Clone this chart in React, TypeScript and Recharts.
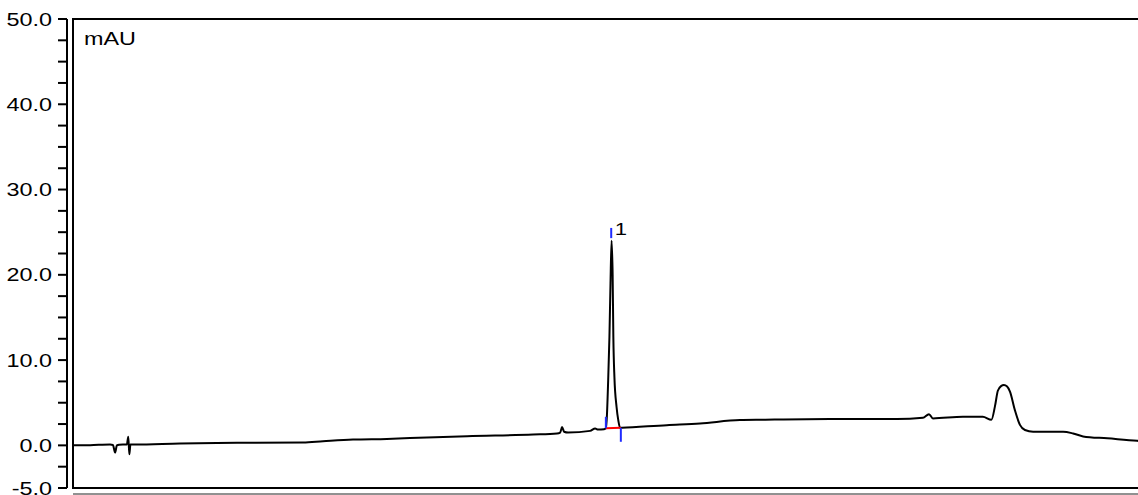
import { LineChart, Line, XAxis, YAxis, ReferenceArea, ReferenceLine, ReferenceDot, Label } from 'recharts'

// retention time (min) and detector signal (mAU)
const times = [
  0, 0.48, 1.04, 1.12, 1.18, 1.23, 1.29, 1.51, 1.55, 1.58, 1.61, 1.74,
  3.0, 4.6, 6.45, 7.01, 7.85, 8.8, 9.45, 11.05, 12.9, 13.57, 13.66, 13.71,
  13.77, 13.88, 14.5, 14.64, 14.72, 14.89, 14.94, 14.97, 15.0, 15.04, 15.07,
  15.1, 15.13, 15.15, 15.18, 15.24, 15.29, 15.34, 15.39, 16.65, 17.58, 18.7,
  19.35, 21.22, 23.1, 23.83, 24.0, 24.11, 24.95, 25.51, 25.75, 25.85, 25.93,
  26.02, 26.1, 26.19, 26.27, 26.41, 26.55, 26.69, 26.92, 27.76, 28.04, 28.32,
  29.0, 29.84, 30,
]
const signal = [
  0.0, 0.02, 0.1, 0.05, -0.85, 0.0, 0.08, 0.1, 1.0, -1.05, 0.1, 0.1,
  0.22, 0.3, 0.34, 0.49, 0.69, 0.76, 0.85, 1.08, 1.28, 1.4, 1.5, 2.14,
  1.6, 1.5, 1.7, 1.98, 1.85, 1.9, 2.0, 3.5, 7.0, 12.7, 19.0,
  24.0, 20.0, 12.7, 8.0, 4.5, 2.9, 2.05, 2.06, 2.37, 2.57, 2.96,
  3.0, 3.08, 3.08, 3.23, 3.66, 3.16, 3.35, 3.35, 3.0, 4.6, 6.4,
  6.95, 7.07, 6.9, 6.3, 4.1, 2.4, 1.8, 1.6, 1.6, 1.4, 1.05,
  0.82, 0.53, 0.5,
]

const yTicks = [-5, -2.5, 0, 2.5, 5, 7.5, 10, 12.5, 15, 17.5, 20, 22.5, 25, 27.5, 30, 32.5, 35, 37.5, 40, 42.5, 45, 47.5, 50]
const yLabels = [-5, 0, 10, 20, 30, 40, 50]

// integration marks of peak 1
const peakName = '1'
const peakStart = { time: 14.94, value: 2.0, markTo: 3.35 }
const peakEnd = { time: 15.36, value: 2.06, markTo: 0.42 }
const peakApex = { time: 15.09, markFrom: 24.3, markTo: 25.5 }

const data = times.map((t, i) => ({ t, v: signal[i] }))

const font = "'Liberation Sans', Arial, sans-serif"

function YTick(props: any) {
  const { x, y, payload } = props
  if (!yLabels.includes(payload.value)) return <g />
  return (
    <text transform={`translate(${x},${y + 6.5}) scale(1.3,1)`} textAnchor="end"
      fontSize={18} fontFamily={font} fill="#000">
      {payload.value.toFixed(1)}
    </text>
  )
}

export default function App() {
  return (
    <div style={{ position: 'absolute', left: 0, top: 0, width: 1138, height: 495, overflow: 'hidden', background: '#fff' }}>
      <LineChart width={1150} height={534} data={data} margin={{ top: 19, right: 7, left: 0, bottom: 0 }}>
        <XAxis xAxisId="a_pad" dataKey="t" type="number" domain={[0, 30]} height={6} tick={false} tickLine={false} axisLine={false} />
        <XAxis xAxisId="b_time" dataKey="t" type="number" domain={[0, 30]} height={40} tick={false} tickLine={false} stroke="#222" strokeWidth={1} />
        <YAxis yAxisId="a_pad" type="number" domain={[-5, 50]} width={6} tick={false} tickLine={false} axisLine={false} />
        <YAxis yAxisId="b_mau" type="number" domain={[-5, 50]} ticks={yTicks} interval={0} width={67}
          tickSize={9} tickMargin={6} tick={<YTick />} stroke="#000" strokeWidth={2} />
        <ReferenceArea xAxisId="b_time" yAxisId="b_mau" x1={0} x2={30} y1={-5} y2={50}
          fill="none" stroke="#000" strokeWidth={2} fillOpacity={0} ifOverflow="visible">
          <Label content={(p: any) => (
            <text transform={`translate(${p.viewBox.x + 11},${p.viewBox.y + 26}) scale(1.3,1)`}
              fontSize={18} fontFamily={font} fill="#000">mAU</text>
          )} />
        </ReferenceArea>
        <Line xAxisId="b_time" yAxisId="b_mau" dataKey="v" type="monotone" stroke="#000" strokeWidth={2}
          dot={false} isAnimationActive={false} />
        <ReferenceLine xAxisId="b_time" yAxisId="b_mau" ifOverflow="visible" stroke="#ff0000" strokeWidth={2}
          segment={[{ x: peakStart.time, y: peakStart.value }, { x: peakEnd.time, y: peakEnd.value }]} />
        <ReferenceLine xAxisId="b_time" yAxisId="b_mau" ifOverflow="visible" stroke="#1f2bff" strokeWidth={2}
          segment={[{ x: peakStart.time, y: peakStart.value }, { x: peakStart.time, y: peakStart.markTo }]} />
        <ReferenceLine xAxisId="b_time" yAxisId="b_mau" ifOverflow="visible" stroke="#1f2bff" strokeWidth={2}
          segment={[{ x: peakEnd.time, y: peakEnd.value }, { x: peakEnd.time, y: peakEnd.markTo }]} />
        <ReferenceLine xAxisId="b_time" yAxisId="b_mau" ifOverflow="visible" stroke="#1f2bff" strokeWidth={2}
          segment={[{ x: peakApex.time, y: peakApex.markFrom }, { x: peakApex.time, y: peakApex.markTo }]} />
        <ReferenceDot xAxisId="b_time" yAxisId="b_mau" x={peakApex.time} y={peakApex.markTo} r={0}
          fill="none" stroke="none" ifOverflow="visible">
          <Label content={(p: any) => (
            <text transform={`translate(${p.viewBox.x + 3.5},${p.viewBox.y + 7}) scale(1.3,1)`}
              fontSize={17} fontFamily={font} fill="#000">{peakName}</text>
          )} />
        </ReferenceDot>
      </LineChart>
    </div>
  )
}
